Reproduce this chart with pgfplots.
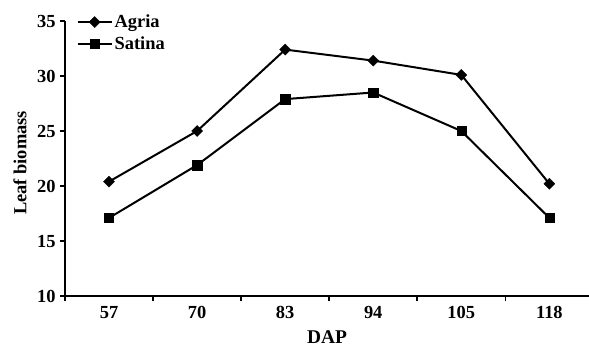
\documentclass[border=0pt]{standalone}
\usepackage{fontspec}
\setmainfont{Liberation Serif}
\usepackage{pgfplots}
\pgfplotsset{compat=1.18}
\begin{document}
\begin{tikzpicture}[x=1bp,y=1bp]
\begin{axis}[
  at={(0,0)}, anchor=south west,
  scale only axis,
  width=524bp, height=275bp,
  xmin=-0.5, xmax=5.45,
  ymin=10, ymax=35,
  axis x line*=bottom, axis y line*=left,
  axis line style={line width=1.9bp, -},
  xtick={0,1,2,3,4,5},
  xticklabels={57,70,83,94,105,118},
  major x tick style={draw=none},
  minor xtick={-0.5,0.5,1.5,2.5,3.5,4.5},
  minor tick length=5bp,
  minor x tick style={line width=1.6bp, black},
  ytick={10,15,20,25,30,35},
  major tick length=5bp,
  tick align=outside,
  major y tick style={line width=1.6bp, black},
  /pgf/number format/assume math mode=true,
  ticklabel style={font=\bfseries\fontsize{18.5}{19}\selectfont},
  yticklabel style={xshift=-1bp},
  xticklabel style={yshift=-2bp},
  xlabel={DAP},
  xlabel style={font=\bfseries\fontsize{19.5}{20}\selectfont, at={(axis description cs:0.5,-0.149)}, anchor=center},
  ylabel={Leaf biomass},
  ylabel style={font=\bfseries\fontsize{18.5}{20}\selectfont, at={(axis description cs:-0.086,0.484)}, anchor=center, rotate=0},
  legend style={at={(axis cs:-0.37,35.75)}, anchor=north west, draw=none, fill=none,
    font=\bfseries\fontsize{18.5}{19}\selectfont, row sep=3.5bp, inner sep=0pt},
  legend cell align=left,
  legend image code/.code={\draw[mark repeat=2,mark phase=2] plot coordinates {(0bp,0bp) (17bp,0bp) (34bp,0bp)};},
  clip=false,
]
\addplot[black, line width=2bp, mark=square*, mark size=3.9bp, mark options={rotate=45, solid, line width=0.4bp}]
  coordinates {(0,20.4) (1,25.0) (2,32.4) (3,31.4) (4,30.1) (5,20.2)};
\addlegendentry{Agria}
\addplot[black, line width=2bp, mark=square*, mark size=4.6bp, mark options={solid, line width=0.4bp}]
  coordinates {(0,17.1) (1,21.9) (2,27.9) (3,28.5) (4,25.0) (5,17.1)};
\addlegendentry{Satina}
\end{axis}
\pgfresetboundingbox
\path[use as bounding box] (-65,-54) rectangle (524,296);
\end{tikzpicture}
\end{document}
